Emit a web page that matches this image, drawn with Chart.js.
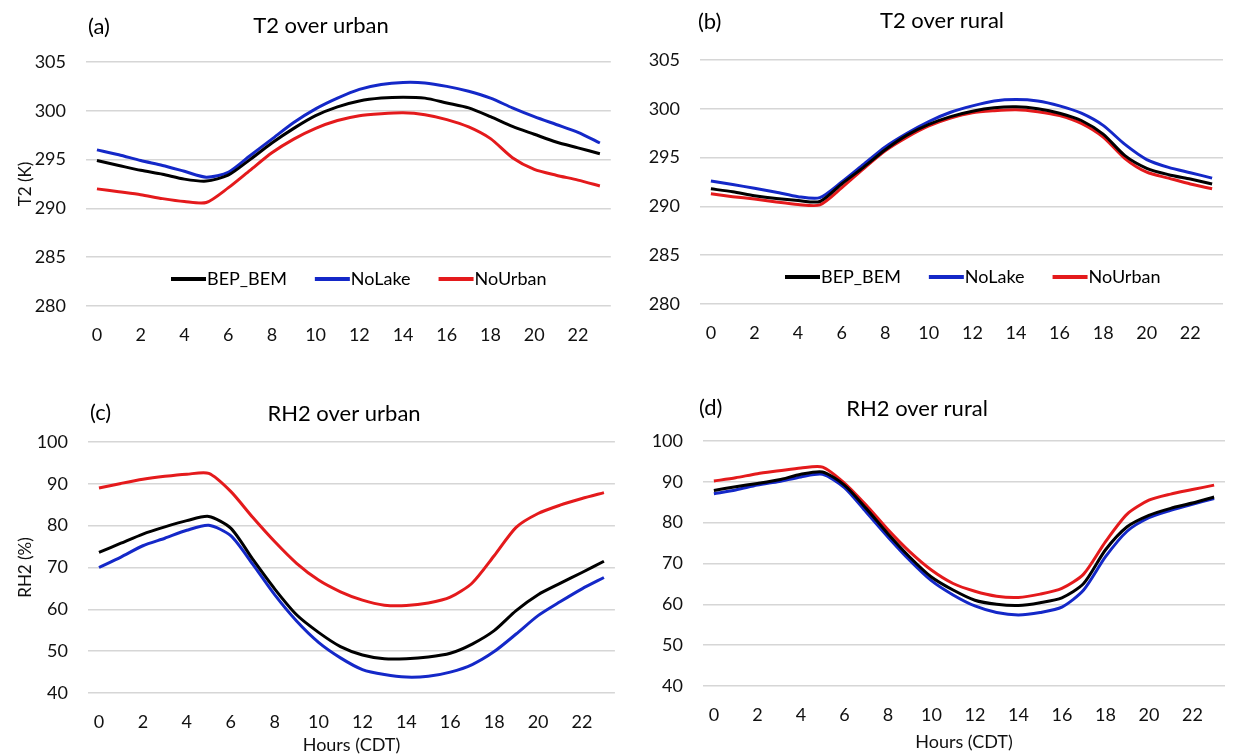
<!DOCTYPE html>
<html>
<head>
<meta charset="utf-8">
<script src="https://cdn.jsdelivr.net/npm/chart.js@4.4.1/dist/chart.umd.min.js"></script>
<style>
  html, body { margin: 0; padding: 0; background: #fff; }
  #wrap { position: relative; width: 1236px; height: 756px; overflow: hidden; }
  canvas { position: absolute; }
</style>
</head>
<body>
<div id="wrap">
  <canvas id="pa" width="618" height="360" style="left:0;top:0"></canvas>
  <canvas id="pb" width="618" height="360" style="left:618px;top:0"></canvas>
  <canvas id="pc" width="622" height="396" style="left:0;top:360px"></canvas>
  <canvas id="pd" width="614" height="396" style="left:622px;top:360px"></canvas>
</div>
<script>
const hours = ['0','1','2','3','4','5','6','7','8','9','10','11','12','13','14','15','16','17','18','19','20','21','22','23'];
const seriesNames = ['BEP_BEM', 'NoLake', 'NoUrban'];
const seriesColors = ['#000000', '#1428c8', '#e41a1c'];

// (a) T2 over urban
const t2UrbanBep = [294.9, 294.4, 293.9, 293.5, 293.0, 292.8, 293.4, 295.0, 296.7, 298.2, 299.5, 300.4, 301.0, 301.3, 301.4, 301.3, 300.8, 300.3, 299.4, 298.4, 297.6, 296.8, 296.2, 295.6];
const t2UrbanNoLake = [296.0, 295.5, 294.9, 294.4, 293.8, 293.2, 293.7, 295.4, 297.1, 298.8, 300.2, 301.3, 302.2, 302.7, 302.9, 302.85, 302.5, 302.0, 301.3, 300.3, 299.4, 298.6, 297.8, 296.7];
const t2UrbanNoUrban = [292.0, 291.7, 291.4, 291.0, 290.7, 290.6, 292.1, 293.9, 295.7, 297.1, 298.2, 299.0, 299.5, 299.7, 299.8, 299.6, 299.1, 298.35, 297.15, 295.2, 294.0, 293.4, 292.9, 292.3];

// (b) T2 over rural
const t2RuralBep = [291.8, 291.5, 291.1, 290.8, 290.6, 290.5, 292.3, 294.0, 295.8, 297.3, 298.4, 299.2, 299.75, 300.1, 300.2, 300.0, 299.55, 298.8, 297.4, 295.2, 293.9, 293.25, 292.8, 292.3];
const t2RuralNoLake = [292.6, 292.25, 291.85, 291.45, 291.0, 290.9, 292.5, 294.3, 296.1, 297.5, 298.7, 299.65, 300.3, 300.8, 300.95, 300.8, 300.3, 299.55, 298.3, 296.35, 294.8, 294.0, 293.45, 292.9];
const t2RuralNoUrban = [291.3, 291.0, 290.75, 290.45, 290.2, 290.15, 291.9, 293.85, 295.7, 297.1, 298.25, 299.05, 299.6, 299.8, 299.9, 299.7, 299.3, 298.5, 297.1, 294.9, 293.5, 292.9, 292.3, 291.8];

// (c) RH2 over urban
const rh2UrbanBep = [73.6, 75.8, 78.0, 79.7, 81.2, 82.2, 79.4, 72.0, 64.9, 58.7, 54.5, 51.1, 49.1, 48.2, 48.2, 48.6, 49.5, 51.7, 54.9, 59.7, 63.5, 66.2, 68.8, 71.5];
const rh2UrbanNoLake = [70.0, 72.5, 75.2, 77.0, 78.9, 80.1, 77.6, 70.8, 63.5, 57.2, 52.1, 48.4, 45.6, 44.4, 43.8, 44.0, 45.0, 46.8, 49.9, 54.1, 58.5, 61.8, 64.9, 67.6];
const rh2UrbanNoUrban = [89.0, 90.1, 91.1, 91.8, 92.3, 92.5, 88.2, 82.0, 76.2, 71.0, 67.0, 64.2, 62.2, 61.0, 60.9, 61.5, 62.9, 66.3, 72.8, 79.6, 82.9, 84.9, 86.5, 87.9];

// (d) RH2 over rural
const rh2RuralBep = [87.9, 88.8, 89.6, 90.5, 91.85, 92.4, 89.2, 83.5, 77.3, 71.6, 66.7, 63.5, 61.0, 60.0, 59.7, 60.4, 61.6, 65.1, 73.3, 79.0, 81.8, 83.5, 84.8, 86.3];
const rh2RuralNoLake = [87.1, 88.0, 89.2, 90.1, 91.2, 91.85, 88.6, 82.6, 76.5, 70.8, 65.8, 62.3, 59.6, 58.0, 57.4, 58.0, 59.3, 63.5, 71.6, 77.9, 81.2, 83.0, 84.5, 85.9];
const rh2RuralNoUrban = [90.2, 91.0, 92.0, 92.7, 93.4, 93.6, 89.7, 84.3, 78.3, 72.9, 68.4, 65.1, 63.2, 62.0, 61.7, 62.5, 63.9, 67.4, 75.3, 82.1, 85.5, 87.0, 88.1, 89.2];

const FONT = 'Lato';

// panel tag, title and the in-plot legend
const panelText = {
  id: 'panelText',
  afterDraw(chart, args, o) {
    const ctx = chart.ctx;
    ctx.save();
    ctx.fillStyle = '#000';
    ctx.textBaseline = 'middle';
    ctx.font = '22px ' + FONT;
    ctx.textAlign = 'left';
    ctx.fillText(o.tag, o.tagX, o.tagY);
    ctx.textAlign = 'center';
    ctx.fillText(o.title, o.titleX, o.titleY);
    if (o.legend) {
      const a = chart.chartArea;
      let x = a.left + 85;
      const y = a.bottom - 27;
      ctx.font = '18px ' + FONT;
      ctx.textAlign = 'left';
      chart.data.datasets.forEach(ds => {
        ctx.strokeStyle = ds.borderColor;
        ctx.lineWidth = 4;
        ctx.beginPath();
        ctx.moveTo(x, y);
        ctx.lineTo(x + 35, y);
        ctx.stroke();
        x += 36;
        ctx.fillText(ds.label, x, y);
        x += ctx.measureText(ds.label).width + 28;
      });
    }
    ctx.restore();
  }
};

function makePanel(id, values, p) {
  new Chart(document.getElementById(id), {
    type: 'line',
    data: {
      labels: hours,
      datasets: values.map((v, i) => ({
        label: seriesNames[i],
        data: v,
        borderColor: seriesColors[i],
        backgroundColor: seriesColors[i],
        borderWidth: 3,
        pointRadius: 0,
        tension: 0.25,
        fill: false,
      })),
    },
    options: {
      responsive: false,
      animation: false,
      devicePixelRatio: 1,
      layout: { padding: { top: p.top, right: p.right, left: 0, bottom: 0 } },
      plugins: {
        legend: { display: false },
        tooltip: { enabled: false },
        panelText: p.text,
      },
      scales: {
        x: {
          offset: true,
          grid: { display: false, drawTicks: false },
          border: { display: false },
          ticks: {
            autoSkip: false,
            maxRotation: 0,
            padding: 18,
            color: '#111',
            font: { family: FONT, size: 18 },
            callback(v, i) { return i % 2 === 0 ? this.getLabelForValue(v) : ''; },
          },
          title: {
            display: !!p.xTitle,
            text: p.xTitle || '',
            color: '#111',
            font: { family: FONT, size: 18 },
            padding: { top: 0, bottom: p.xTitlePad || 0 },
          },
          afterFit(s) { s.height = p.bottom; },
        },
        y: {
          min: p.min,
          max: p.max,
          grid: { color: '#d6d6d6', lineWidth: 1.5, drawTicks: false },
          border: { display: false },
          ticks: {
            stepSize: p.step,
            padding: 20,
            color: '#111',
            font: { family: FONT, size: 18 },
          },
          title: {
            display: !!p.yTitle,
            text: p.yTitle || '',
            color: '#111',
            font: { family: FONT, size: 17 },
            padding: { top: 15, bottom: 0 },
          },
          afterFit(s) { s.width = p.left; },
        },
      },
    },
    plugins: [panelText],
  });
}

makePanel('pa', [t2UrbanBep, t2UrbanNoLake, t2UrbanNoUrban], {
  top: 62, right: 6, left: 86, bottom: 54, min: 280, max: 305, step: 5, yTitle: 'T2 (K)',
  text: { tag: '(a)', tagX: 88, tagY: 27, title: 'T2 over urban', titleX: 321, titleY: 26, legend: true },
});
makePanel('pb', [t2RuralBep, t2RuralNoLake, t2RuralNoUrban], {
  top: 60, right: 13, left: 82, bottom: 56, min: 280, max: 305, step: 5,
  text: { tag: '(b)', tagX: 80, tagY: 22, title: 'T2 over rural', titleX: 324, titleY: 21, legend: true },
});
makePanel('pc', [rh2UrbanBep, rh2UrbanNoLake, rh2UrbanNoUrban], {
  top: 82, right: 3, left: 88, bottom: 63, min: 40, max: 100, step: 10, yTitle: 'RH2 (%)',
  xTitle: 'Hours (CDT)', xTitlePad: 0,
  text: { tag: '(c)', tagX: 90, tagY: 53, title: 'RH2 over urban', titleX: 344, titleY: 54, legend: false },
});
makePanel('pd', [rh2RuralBep, rh2RuralNoLake, rh2RuralNoUrban], {
  top: 81, right: 11, left: 81, bottom: 70, min: 40, max: 100, step: 10,
  xTitle: 'Hours (CDT)', xTitlePad: 3,
  text: { tag: '(d)', tagX: 77, tagY: 48, title: 'RH2 over rural', titleX: 295, titleY: 49, legend: false },
});
</script>
</body>
</html>
